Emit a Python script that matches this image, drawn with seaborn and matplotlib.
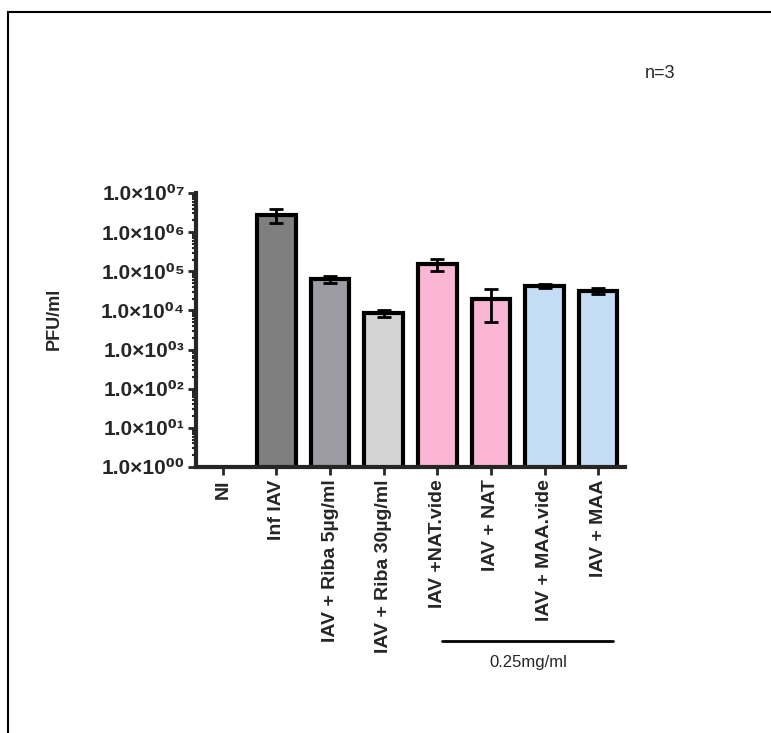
import numpy as np
import pandas as pd
import seaborn as sns
import matplotlib.pyplot as plt
from matplotlib.patches import Rectangle
from matplotlib.ticker import LogLocator, FixedLocator, NullFormatter

# values (PFU/ml, mean and SD)
conditions = ["NI", "Inf IAV", "IAV + Riba 5µg/ml", "IAV + Riba 30µg/ml",
              "IAV +NAT.vide", "IAV + NAT", "IAV + MAA.vide", "IAV + MAA"]
pfu_mean = [np.nan, 2.8e6, 6.4e4, 8.7e3, 1.55e5, 2.0e4, 4.3e4, 3.2e4]
pfu_sd = [np.nan, 1.1e6, 1.3e4, 1.8e3, 5.5e4, 1.5e4, 5.0e3, 5.0e3]
bar_colors = ["#ffffff", "#7f7f7f", "#9d9ba3", "#d4d4d4",
              "#fbb6d6", "#fbb6d6", "#c4dcf4", "#c4dcf4"]
ytick_labels = ["1.0×10⁰⁰", "1.0×10⁰¹", "1.0×10⁰²", "1.0×10⁰³",
                "1.0×10⁰⁴", "1.0×10⁰⁵", "1.0×10⁰⁶", "1.0×10⁰⁷"]

df = pd.DataFrame({"cond": conditions, "pfu": pfu_mean})

sns.set_style("white")
plt.rcParams["font.family"] = ["Liberation Sans", "DejaVu Sans"]

fig = plt.figure(figsize=(7.71, 7.33), dpi=100)
ax = fig.add_axes([196 / 771, 1 - 467 / 733, 429 / 771, 274 / 733])
ax.set_yscale("log")

sns.barplot(data=df, x="cond", y="pfu", hue="cond", palette=bar_colors,
            legend=False, width=0.72, edgecolor="black", linewidth=3,
            saturation=1, ax=ax)

ax.errorbar(range(len(conditions)), pfu_mean, yerr=pfu_sd, fmt="none",
            ecolor="black", elinewidth=2, capsize=5, capthick=2, zorder=5)

ax.set_ylim(1, 1e7)
ax.set_xlim(-0.5, len(conditions) - 0.5)
ax.yaxis.set_major_locator(FixedLocator([10.0 ** k for k in range(8)]))
ax.yaxis.set_minor_locator(LogLocator(base=10, subs=np.arange(2, 10)))
ax.yaxis.set_minor_formatter(NullFormatter())
ax.set_yticklabels(ytick_labels, fontsize=15, fontweight="bold")
ax.set_xticks(range(len(conditions)))
ax.set_xticklabels(conditions, rotation=90, fontsize=14, fontweight="bold")

for s in ["top", "right"]:
    ax.spines[s].set_visible(False)
for s in ["left", "bottom"]:
    ax.spines[s].set_linewidth(3)
ax.tick_params(axis="y", which="major", direction="out", length=6, width=2, left=True, pad=2)
ax.tick_params(axis="y", which="minor", direction="out", length=3, width=1.5, left=True)
ax.tick_params(axis="x", direction="out", length=6, width=2, bottom=True, pad=3)
ax.set_xlabel("")
ax.set_ylabel("PFU/ml", fontsize=13, fontweight="bold")
ax.yaxis.set_label_coords(-0.31, 0.54)

# concentration bracket under the NAT / MAA groups
fig.add_artist(plt.Line2D([442 / 771, 613 / 771], [1 - 641 / 733] * 2,
                          color="black", linewidth=2, transform=fig.transFigure))
fig.text(528 / 771, 1 - 662 / 733, "0.25mg/ml", ha="center", va="center", fontsize=12)
fig.text(660 / 771, 1 - 73 / 733, "n=3", ha="center", va="center", fontsize=13)

# outer frame of the original image
fig.add_artist(Rectangle((8 / 771, -0.1), 1.2, 1 - 12 / 733 + 0.1, fill=False,
                         edgecolor="black", linewidth=1.5, transform=fig.transFigure))

plt.savefig("out.png", dpi=100)
